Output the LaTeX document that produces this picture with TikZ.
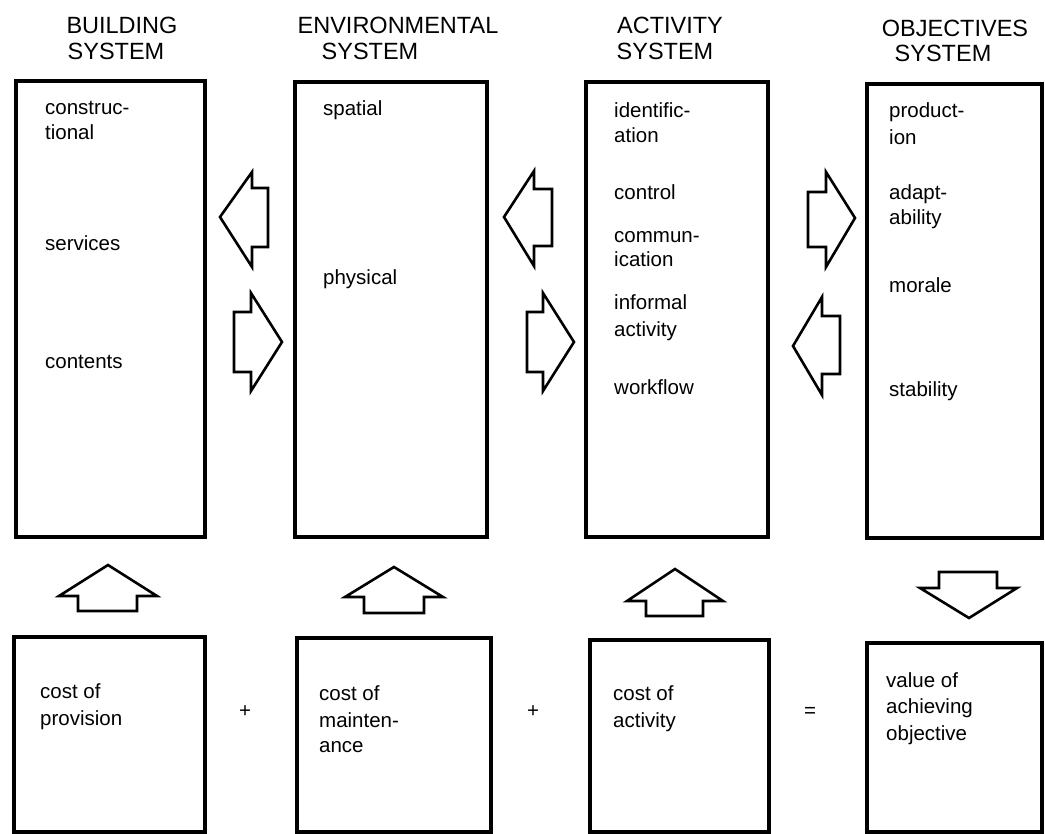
\documentclass[tikz,border=0pt]{standalone}
\usepackage{fontspec}
\setmainfont{Liberation Sans}
\begin{document}
\begin{tikzpicture}[x=1pt,y=-1pt,
  box/.style={draw=black,line width=4.2pt,anchor=north west,inner sep=0pt,minimum width=#1},
  blockarrow/.style={draw=black,line width=2.6pt,line join=miter,fill=white},
  title/.style={anchor=base,inner sep=0pt,font=\fontsize{23.5pt}{26pt}\selectfont},
  txt/.style={anchor=base west,inner sep=0pt,font=\fontsize{20.5pt}{26pt}\selectfont},
  op/.style={anchor=center,inner sep=0pt,font=\fontsize{20.5pt}{26pt}\selectfont}]
\useasboundingbox[fill=white] (0,0) rectangle (1045,834);
% titles
\node[title] (t1a) at (122,33.5) {BUILDING};
\node[title] (t1b) at (116,59.5) {SYSTEM};
\node[title] (t2a) at (398,33.5) {ENVIRONMENTAL};
\node[title] (t2b) at (370,59.5) {SYSTEM};
\node[title] (t3a) at (670,33.5) {ACTIVITY};
\node[title] (t3b) at (665,59.5) {SYSTEM};
\node[title] (t4a) at (955,36.5) {OBJECTIVES};
\node[title] (t4b) at (943,61.5) {SYSTEM};
% top boxes
\draw[line width=4.2pt] (16,81) rectangle (205,537);
\node[inner sep=0pt] (T1) at (110.5,309) {};
\draw[line width=4.2pt] (295,82) rectangle (487,537);
\node[inner sep=0pt] (T2) at (391,309.5) {};
\draw[line width=4.2pt] (586,82) rectangle (768,537);
\node[inner sep=0pt] (T3) at (677,309.5) {};
\draw[line width=4.2pt] (867,84) rectangle (1042,538);
\node[inner sep=0pt] (T4) at (954.5,311) {};
% bottom boxes
\draw[line width=4.2pt] (14,637) rectangle (205,832);
\node[inner sep=0pt] (B1) at (109.5,734.5) {};
\draw[line width=4.2pt] (297,638) rectangle (491,832);
\node[inner sep=0pt] (B2) at (394,735) {};
\draw[line width=4.2pt] (590,640) rectangle (769,832);
\node[inner sep=0pt] (B3) at (679.5,736) {};
\draw[line width=4.2pt] (867,643) rectangle (1042,832);
\node[inner sep=0pt] (B4) at (954.5,737.5) {};
% box 1 texts
\node[txt] (a1) at (45,114.5) {construc-};
\node[txt] (a2) at (45,139.5) {tional};
\node[txt] (a3) at (45,250.5) {services};
\node[txt] (a4) at (45,368.5) {contents};
% box 2 texts
\node[txt] (b1) at (323,115.5) {spatial};
\node[txt] (b2) at (323,284.5) {physical};
% box 3 texts
\node[txt] (c1) at (614,118) {identific-};
\node[txt] (c2) at (614,143) {ation};
\node[txt] (c3) at (614,200) {control};
\node[txt] (c4) at (614,243) {commun-};
\node[txt] (c5) at (614,267) {ication};
\node[txt] (c6) at (614,310) {informal};
\node[txt] (c7) at (614,337) {activity};
\node[txt] (c8) at (614,395) {workflow};
% box 4 texts
\node[txt] (d1) at (889,118) {product-};
\node[txt] (d2) at (889,145) {ion};
\node[txt] (d3) at (889,200) {adapt-};
\node[txt] (d4) at (889,225) {ability};
\node[txt] (d5) at (889,293) {morale};
\node[txt] (d6) at (889,397) {stability};
% bottom texts
\node[txt] (e1) at (40,698) {cost of};
\node[txt] (e2) at (40,725) {provision};
\node[txt] (f1) at (319,700) {cost of};
\node[txt] (f2) at (319,727) {mainten-};
\node[txt] (f3) at (319,752) {ance};
\node[txt] (g1) at (613,700) {cost of};
\node[txt] (g2) at (613,727) {activity};
\node[txt] (h1) at (886,687) {value of};
\node[txt] (h2) at (886,713) {achieving};
\node[txt] (h3) at (886,740) {objective};
\node[op] (p1) at (245,712) {+};
\node[op] (p2) at (533,712) {+};
\node[op] (eq) at (810,712) {=};
% horizontal block arrows
\draw[blockarrow] (220,217) -- (252,172) -- (252,188) -- (268,188) -- (268,247) -- (252,247) -- (252,267) -- cycle;
\draw[blockarrow] (282,342) -- (251,293) -- (251,312) -- (234,312) -- (234,372) -- (251,372) -- (251,391) -- cycle;
\draw[blockarrow] (504,217) -- (534,171) -- (534,189) -- (552,189) -- (552,246) -- (534,246) -- (534,266) -- cycle;
\draw[blockarrow] (574,342) -- (543,293) -- (543,312) -- (527,312) -- (527,372) -- (543,372) -- (543,391) -- cycle;
\draw[blockarrow] (855,218) -- (826,172) -- (826,192) -- (808,192) -- (808,247) -- (826,247) -- (826,267) -- cycle;
\draw[blockarrow] (793,346) -- (822,297) -- (822,316) -- (840,316) -- (840,374) -- (822,374) -- (822,395) -- cycle;
% vertical block arrows
\draw[blockarrow] (108,565) -- (59,596) -- (78,596) -- (78,611) -- (137,611) -- (137,596) -- (157,596) -- cycle;
\draw[blockarrow] (394,567) -- (345,597) -- (364,597) -- (364,613) -- (424,613) -- (424,597) -- (443,597) -- cycle;
\draw[blockarrow] (675,569) -- (627,601) -- (646,601) -- (646,616) -- (703,616) -- (703,601) -- (723,601) -- cycle;
\draw[blockarrow] (969,618) -- (920,588) -- (939,588) -- (939,572) -- (997,572) -- (997,588) -- (1017,588) -- cycle;
\end{tikzpicture}
\end{document}
